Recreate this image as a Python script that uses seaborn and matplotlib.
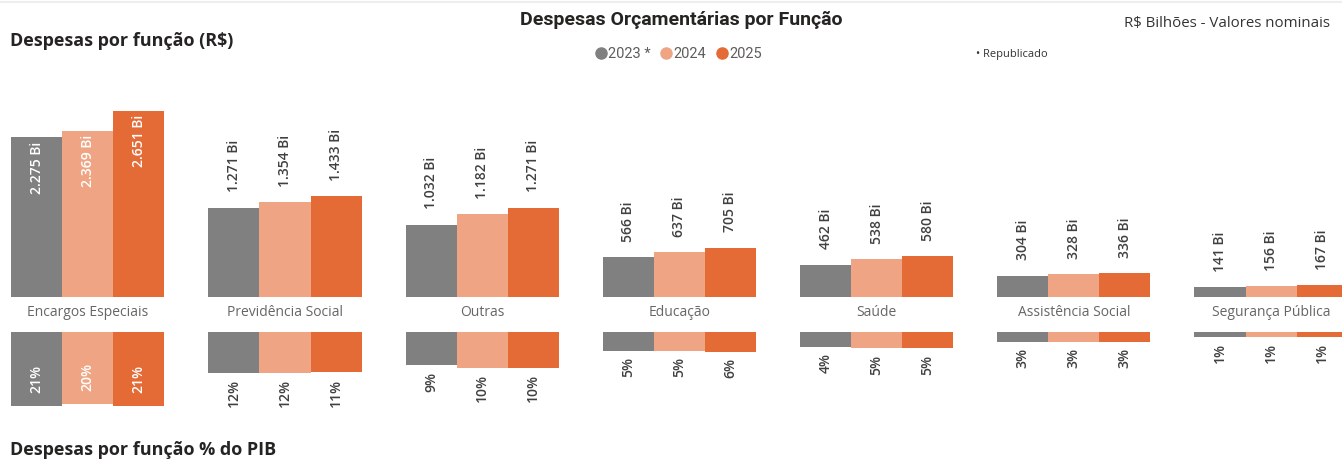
import matplotlib
matplotlib.use("Agg")
import matplotlib.pyplot as plt
from matplotlib.lines import Line2D
import seaborn as sns
import pandas as pd

# ---- data ----
categorias = ["Encargos Especiais", "Previdência Social", "Outras", "Educação",
              "Saúde", "Assistência Social", "Segurança Pública"]
anos = ["2023 *", "2024", "2025"]
valores_2023 = [2275, 1271, 1032, 566, 462, 304, 141]
valores_2024 = [2369, 1354, 1182, 637, 538, 328, 156]
valores_2025 = [2651, 1433, 1271, 705, 580, 336, 167]
pib_2023 = [21.0, 11.6, 9.4, 5.3, 4.3, 2.8, 1.4]
pib_2024 = [20.4, 11.5, 10.1, 5.4, 4.6, 2.8, 1.3]
pib_2025 = [21.0, 11.4, 10.1, 5.6, 4.6, 2.7, 1.3]
cores = ["#808080", "#EFA584", "#E46A36"]

rows = []
for ano, vals, pcts in zip(anos, [valores_2023, valores_2024, valores_2025],
                           [pib_2023, pib_2024, pib_2025]):
    for c, v, p in zip(categorias, vals, pcts):
        rows.append({"categoria": c, "ano": ano, "valor": v, "pib": p})
df = pd.DataFrame(rows)

sns.set_style("white")
plt.rcParams["font.family"] = ["Open Sans", "DejaVu Sans"]

W, H = 1342, 461
fig = plt.figure(figsize=(W / 100, H / 100), dpi=100)

XL = (-0.4452, 6.360)

# top axes: baseline at px 297, top at px 80
ax1 = fig.add_axes([0, 1 - 297 / H, 1, (297 - 80) / H])
sns.barplot(data=df, x="categoria", y="valor", hue="ano", order=categorias,
            hue_order=anos, palette=cores, width=0.776, linewidth=0,
            saturation=1, ax=ax1, legend=False, errorbar=None)
ax1.set_xlim(*XL)
ax1.set_ylim(0, 217 / 0.0702)
ax1.set_xlabel("")
ax1.set_ylabel("")
ax1.set_yticks([])
ax1.tick_params(axis="x", length=0, pad=6, labelsize=10, labelcolor="#666666")
for s in ax1.spines.values():
    s.set_visible(False)
ax1.patch.set_alpha(0)

def fmt_bi(v):
    return f"{v:,.0f}".replace(",", ".") + " Bi"

for container in ax1.containers:
    for i, bar in enumerate(container):
        h = bar.get_height()
        x = bar.get_x() + bar.get_width() / 2
        if i == 0:
            ax1.annotate(fmt_bi(h), (x, h), xytext=(0, -3), textcoords="offset points",
                         rotation=90, ha="center", va="top", color="white",
                         fontsize=10, fontweight="semibold", annotation_clip=False)
        else:
            ax1.annotate(fmt_bi(h), (x, h), xytext=(0, 11), textcoords="offset points",
                         rotation=90, ha="center", va="bottom", color="#404040",
                         fontsize=10, fontweight="semibold", annotation_clip=False)

# bottom axes: top at px 332, bottom at px 420
ax2 = fig.add_axes([0, 1 - 420 / H, 1, 88 / H])
sns.barplot(data=df, x="categoria", y="pib", hue="ano", order=categorias,
            hue_order=anos, palette=cores, width=0.776, linewidth=0,
            saturation=1, ax=ax2, legend=False, errorbar=None)
ax2.set_xlim(*XL)
ax2.set_ylim(88 / 3.54, 0)
ax2.set_xlabel("")
ax2.set_ylabel("")
ax2.set_xticks([])
ax2.set_yticks([])
for s in ax2.spines.values():
    s.set_visible(False)
ax2.patch.set_alpha(0)

for container in ax2.containers:
    for i, bar in enumerate(container):
        h = bar.get_height()
        x = bar.get_x() + bar.get_width() / 2
        lab = f"{h:.0f}%"
        if i == 0:
            ax2.annotate(lab, (x, h), xytext=(0, 9.5), textcoords="offset points",
                         rotation=90, ha="center", va="bottom", color="white",
                         fontsize=10, fontweight="semibold", annotation_clip=False)
        else:
            ax2.annotate(lab, (x, h), xytext=(0, -4.5), textcoords="offset points",
                         rotation=90, ha="center", va="top", color="#404040",
                         fontsize=10, fontweight="semibold", annotation_clip=False)

# texts
fig.text(10 / W, 1 - 41 / H, "Despesas por função (R$)", fontsize=13,
         fontweight="bold", color="#252423", va="center", ha="left")
fig.text(10 / W, 1 - 450 / H, "Despesas por função % do PIB", fontsize=13,
         fontweight="bold", color="#252423", va="center", ha="left")
fig.text(681 / W, 1 - 20 / H, "Despesas Orçamentárias por Função", fontsize=14,
         fontweight="bold", color="#252423", va="center", ha="center",
         family=["Roboto", "DejaVu Sans"])
fig.text(1330 / W, 1 - 23 / H, "R$ Bilhões - Valores nominais", fontsize=10.8,
         color="#333333", va="center", ha="right")
fig.text(976 / W, 1 - 54 / H, "• Republicado", fontsize=8,
         color="#333333", va="center", ha="left")

handles = [Line2D([], [], marker="o", linestyle="", markersize=8,
                  markerfacecolor=c, markeredgecolor=c) for c in cores]
fig.legend(handles, anos, loc="center", bbox_to_anchor=(678 / W, 1 - 54 / H),
           ncol=3, frameon=False, handletextpad=0.05, columnspacing=0.6,
           handlelength=0.9, labelcolor="#605E5C",
           prop={"family": ["Roboto", "DejaVu Sans"], "size": 10.5})

fig.add_artist(Line2D([0, 1], [1 - 2 / H, 1 - 2 / H], color="#EEEEEE", lw=1.5,
                      transform=fig.transFigure))

fig.savefig("out.png", dpi=100)
